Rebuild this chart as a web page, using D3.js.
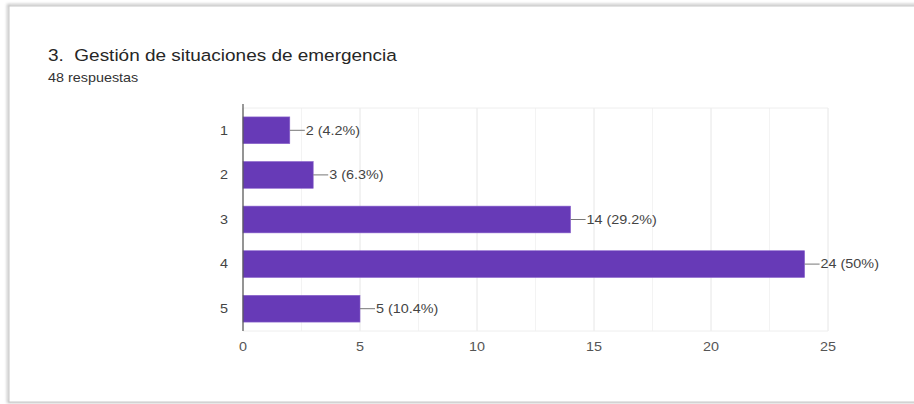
<!DOCTYPE html>
<html><head><meta charset="utf-8">
<script src="https://cdn.jsdelivr.net/npm/d3@7"></script>
<style>html,body{margin:0;padding:0;background:#fff;}svg{display:block;}</style>
</head><body>
<svg id="c" width="914" height="404"></svg>
<script>
const categories = ["1","2","3","4","5"];
const counts = [2,3,14,24,5];
const percents = ["4.2%","6.3%","29.2%","50%","10.4%"];
const xTicks = [0,5,10,15,20,25];
const title = "3.  Gestión de situaciones de emergencia";
const subtitle = "48 respuestas";

const svg = d3.select("#c");
const font = "Arial, 'Liberation Sans', sans-serif";
const SX = 1.15; // horizontal stretch seen in the reference image

function txt(parent, x, y, s, size, anchor, fill, dy) {
  const g = parent.append("g").attr("transform", `translate(${x},${y}) scale(${SX},1)`);
  return g.append("text").attr("x",0).attr("y",0).attr("dy", dy || 0)
    .attr("font-family", font).attr("font-size", size)
    .attr("text-anchor", anchor || "start").attr("fill", fill)
    .style("white-space","pre").text(s);
}

// frame
const defs = svg.append("defs");
const f = defs.append("filter").attr("id","sh").attr("x","-5%").attr("y","-5%").attr("width","110%").attr("height","110%");
f.append("feGaussianBlur").attr("stdDeviation",1.5);
svg.append("rect").attr("x",8).attr("y",5).attr("width",960).attr("height",397)
  .attr("fill","none").attr("stroke","#bbb").attr("stroke-width",2).attr("filter","url(#sh)");
svg.append("rect").attr("x",9).attr("y",6).attr("width",960).attr("height",396)
  .attr("fill","#fff").attr("stroke","#c8c8c8").attr("stroke-width",1);

txt(svg, 48, 61, title, 16.5, "start", "#262626");
txt(svg, 48, 82, subtitle, 12.5, "start", "#333");

const x = d3.scaleLinear().domain([0,25]).range([243,828]);
const y = d3.scaleBand().domain(categories).range([108,331]).paddingInner(0.4).paddingOuter(0.2);

// grid
const minor = d3.range(0,25.01,2.5);
svg.append("g").selectAll("line").data(minor).join("line")
  .attr("x1",d=>x(d)).attr("x2",d=>x(d)).attr("y1",108).attr("y2",331)
  .attr("stroke",d=>d%5===0?"#e6e6e6":"#f3f3f3").attr("stroke-width",1);
svg.append("line").attr("x1",243).attr("x2",828).attr("y1",108).attr("y2",108).attr("stroke","#eee");
svg.append("line").attr("x1",243).attr("x2",828).attr("y1",331).attr("y2",331).attr("stroke","#eee");

// bars
svg.append("g").selectAll("rect").data(counts).join("rect")
  .attr("x",x(0)).attr("y",(d,i)=>y(categories[i]))
  .attr("width",d=>x(d)-x(0)).attr("height",y.bandwidth())
  .attr("fill","#673ab7").attr("stroke","#8a63cc").attr("stroke-width",0.6);

// labels
const lg = svg.append("g");
counts.forEach((d,i)=>{
  const cy = y(categories[i]) + y.bandwidth()/2;
  lg.append("line").attr("x1",x(d)).attr("x2",x(d)+15).attr("y1",cy).attr("y2",cy).attr("stroke","#777").attr("stroke-width",1);
  txt(lg, x(d)+16, cy, `${d} (${percents[i]})`, 12.5, "start", "#444", "0.35em");
});

// y axis (line + labels via scale)
const ya = svg.append("g").attr("transform","translate(243,0)")
  .call(d3.axisLeft(y).tickSize(0).tickFormat(""));
ya.select(".domain").attr("stroke","#555").attr("stroke-width",1.2).attr("d","M0,104V331");
categories.forEach(c=>{
  txt(svg, 228, y(c)+y.bandwidth()/2, c, 12.5, "end", "#444", "0.35em");
});

// x axis labels via scale
const xa = svg.append("g").attr("transform","translate(0,331)")
  .call(d3.axisBottom(x).tickValues(xTicks).tickSize(0).tickFormat(""));
xa.select(".domain").remove();
xTicks.forEach(t=>{
  txt(svg, x(t), 347, String(t), 12.5, "middle", "#555", "0.35em");
});
</script>
</body></html>
